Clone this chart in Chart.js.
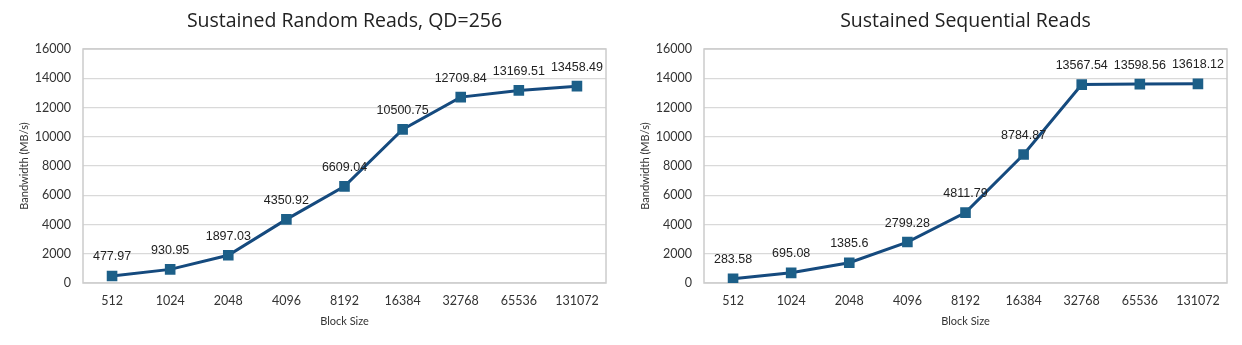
<!DOCTYPE html>
<html lang="en">
<head>
    <meta charset="UTF-8">
    <title>Sustained Reads</title>
    <script src="https://cdn.jsdelivr.net/npm/chart.js"></script>
    <style>
        body {
            margin: 0;
            background: #fff;
            width: 1242px;
            height: 345px;
            position: relative;
            overflow: hidden;
        }
        .panel {
            position: absolute;
            top: 0;
            width: 621px;
            height: 345px;
        }
        #leftPanel { left: 0; }
        #rightPanel { left: 621px; }
    </style>
</head>
<body>
    <div class="panel" id="leftPanel"><canvas id="randomChart" width="621" height="345"></canvas></div>
    <div class="panel" id="rightPanel"><canvas id="seqChart" width="621" height="345"></canvas></div>

    <script>
        const blockSizes = ['512', '1024', '2048', '4096', '8192', '16384', '32768', '65536', '131072'];
        const randomReads = [477.97, 930.95, 1897.03, 4350.92, 6609.04, 10500.75, 12709.84, 13169.51, 13458.49];
        const seqReads = [283.58, 695.08, 1385.6, 2799.28, 4811.79, 8784.87, 13567.54, 13598.56, 13618.12];
        const yMin = 0;
        const yMax = 16000;
        const yStep = 2000;

        const lineColor = '#154a7e';
        const markerColor = '#1c5f88';
        const gridColor = '#d9d9d9';
        const textColor = '#333333';

        // grey frame round the plot area, like the spreadsheet chart
        const framePlugin = {
            id: 'frame',
            beforeDatasetsDraw(chart) {
                const { ctx, chartArea } = chart;
                ctx.save();
                ctx.strokeStyle = '#cccccc';
                ctx.lineWidth = 1.5;
                ctx.strokeRect(chartArea.left, chartArea.top, chartArea.right - chartArea.left, chartArea.bottom - chartArea.top);
                ctx.restore();
            }
        };

        // value labels above each marker
        const valueLabels = {
            id: 'valueLabels',
            afterDatasetsDraw(chart) {
                const ctx = chart.ctx;
                ctx.save();
                ctx.font = '12.5px "Liberation Sans", Arial, sans-serif';
                ctx.fillStyle = '#222222';
                ctx.textAlign = 'center';
                ctx.textBaseline = 'middle';
                chart.data.datasets.forEach((ds, i) => {
                    chart.getDatasetMeta(i).data.forEach((pt, j) => {
                        ctx.fillText(String(ds.data[j]), pt.x, pt.y - 19);
                    });
                });
                ctx.restore();
            }
        };

        function makeChart(id, title, values) {
            const ctx = document.getElementById(id).getContext('2d');
            return new Chart(ctx, {
                type: 'line',
                data: {
                    labels: blockSizes,
                    datasets: [{
                        label: title,
                        data: values,
                        borderColor: lineColor,
                        borderWidth: 3,
                        tension: 0,
                        pointStyle: 'rect',
                        pointRadius: 7.5,
                        pointBackgroundColor: markerColor,
                        pointBorderColor: markerColor,
                        pointBorderWidth: 0
                    }]
                },
                options: {
                    responsive: false,
                    animation: false,
                    layout: { padding: { left: 0, right: 15, top: 0, bottom: 0 } },
                    plugins: {
                        legend: { display: false },
                        tooltip: { enabled: false },
                        title: {
                            display: true,
                            text: title,
                            fullSize: false,
                            color: '#222222',
                            font: { family: '"Open Sans", Lato, sans-serif', size: 19.5, weight: 'normal' },
                            padding: { top: 10, bottom: 15.6 }
                        }
                    },
                    scales: {
                        x: {
                            offset: true,
                            grid: { display: false, drawTicks: false },
                            border: { display: false },
                            ticks: {
                                color: textColor,
                                padding: 10,
                                maxRotation: 0,
                                font: { family: 'Lato, sans-serif', size: 12.5 }
                            },
                            title: {
                                display: true,
                                text: 'Block Size',
                                color: textColor,
                                font: { family: 'Lato, sans-serif', size: 11 },
                                padding: { top: 0, bottom: 17 }
                            },
                            afterFit(scale) { scale.height = 62; }
                        },
                        y: {
                            min: yMin,
                            max: yMax,
                            grid: { color: gridColor, lineWidth: 1.2, drawTicks: false },
                            border: { display: false },
                            ticks: {
                                stepSize: yStep,
                                color: textColor,
                                padding: 12,
                                font: { family: 'Lato, sans-serif', size: 12.5 },
                                callback: (v) => String(v)
                            },
                            title: {
                                display: true,
                                text: 'Bandwidth (MB/s)',
                                color: textColor,
                                font: { family: 'Lato, sans-serif', size: 11 },
                                padding: { top: 18, bottom: 0 }
                            },
                            afterFit(scale) { scale.width = 83; }
                        }
                    }
                },
                plugins: [framePlugin, valueLabels]
            });
        }

        makeChart('randomChart', 'Sustained Random Reads, QD=256', randomReads);
        makeChart('seqChart', 'Sustained Sequential Reads', seqReads);
    </script>
</body>
</html>
